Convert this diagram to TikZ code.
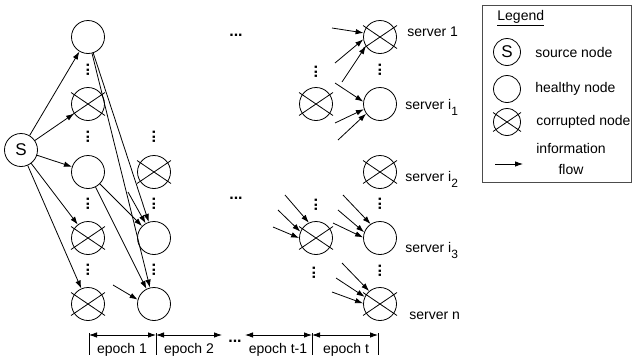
\documentclass[tikz,border=0pt]{standalone}
\usepackage{fontspec}
\setmainfont{Liberation Sans}
\usetikzlibrary{positioning}
\usetikzlibrary{arrows.meta}

\newcommand{\srvsub}[1]{\raisebox{-6pt}{\fontsize{12pt}{12pt}\selectfont #1}}

\begin{document}
\begin{tikzpicture}[
                          x=1pt, y=-1pt,
                          font=\fontsize{14pt}{16pt}\selectfont,
                          line width=0.8pt,
                          healthynode/.style={circle, draw, minimum size=33pt, inner sep=0pt},
                          corruptnode/.style={circle, draw, minimum size=33pt, inner sep=0pt},
                          sourcenode/.style={circle, draw, minimum size=33pt, inner sep=0pt, font=\fontsize{17pt}{17pt}\selectfont},
                          flowarrow/.style={-{Latex[length=8pt,width=5.5pt]}},
                          epocharrow/.style={{Latex[length=8pt,width=5.5pt]}-{Latex[length=8pt,width=5.5pt]}},
                          dotsnode/.style={font=\fontsize{16pt}{16pt}\selectfont\bfseries, inner sep=0pt, text height=2.2pt, text depth=0pt},
                          vdotsnode/.style={dotsnode, rotate=90},
                          serverlabel/.style={anchor=base west, inner sep=0pt},
                      ]
                      \useasboundingbox (0,0) rectangle (632,362);

                      %Nodes
                      \node[sourcenode]     (src)   at (21,150)     {S};
                      \node[healthynode]    (a1)    at (88,37)      {};
                      \node[corruptnode]    (a2)    at (88,104)     {};
                      \node[healthynode]    (a3)    at (88,172)     {};
                      \node[corruptnode]    (a4)    at (88,238)     {};
                      \node[corruptnode]    (a5)    at (88,304)     {};
                      \node[corruptnode]    (b3)    at (154,172)    {};
                      \node[healthynode]    (b4)    at (154,238)    {};
                      \node[healthynode]    (b5)    at (154,304)    {};
                      \node[corruptnode]    (c2)    at (316,104)    {};
                      \node[corruptnode]    (c4)    at (316,238)    {};
                      \node[corruptnode]    (d1)    at (380,37)     {};
                      \node[healthynode]    (d2)    at (380,104)    {};
                      \node[corruptnode]    (d3)    at (380,172)    {};
                      \node[healthynode]    (d4)    at (380,238)    {};
                      \node[corruptnode]    (d5)    at (380,304)    {};

                      %Server labels
                      \node[serverlabel]    (s1)    at (407,36.5)   {server 1};
                      \node[serverlabel]    (s2)    at (405,109.5)  {server i\srvsub{1}};
                      \node[serverlabel]    (s3)    at (405,181.5)  {server i\srvsub{2}};
                      \node[serverlabel]    (s4)    at (405,252.5)  {server i\srvsub{3}};
                      \node[serverlabel]    (s5)    at (409,319.5)  {server n};

                      %Crosses
                      \foreach \n in {a2,a4,a5,b3,c2,c4,d1,d3,d5}
                          \draw (\n.center) +(-17,-11.5) -- +(17,11.5) +(-17,11.5) -- +(17,-11.5);

                      %Dots
                      \foreach \x/\y in {88/70, 88/137, 88/204, 88/270, 154/137, 154/204, 154/270,
                                         316/72, 316/205, 314/273, 380/70, 380/204, 380/271}
                          \node[vdotsnode] (v\x-\y) at (\x,\y) {...};
                      \node[dotsnode]       (h1)    at (236,35)     {...};
                      \node[dotsnode]       (h2)    at (236,198)    {...};
                      \node[dotsnode]       (h3)    at (235,341)    {...};

                      %Lines
                      \foreach \n in {a1,a2,a3,a4,a5}
                          \draw[flowarrow] (src) -- (\n);
                      \draw[flowarrow] (a1) -- (b4);
                      \draw[flowarrow] (a1) -- (b5);
                      \draw[flowarrow] (a3) -- (b4);
                      \draw[flowarrow] (a3) -- (b5);
                      \foreach \n/\i/\dx/\dy/\a in {b4/1/-26/-46/120, b5/1/-41/-19/165,
                                                    d1/1/-48/-9/166, d1/2/-45/26/188, d1/3/-38/45/213,
                                                    d2/1/-45/-21/172, d2/2/-45/19/198, d2/3/-42/36/215,
                                                    c4/1/-31/-43/115, c4/2/-38/-28/158, c4/3/-43/-11/180,
                                                    d4/1/-37/-43/124, d4/2/-42/-28/160, d4/3/-47/-15/178,
                                                    d5/1/-38/-41/130, d5/2/-44/-26/155, d5/3/-48/-12/178}{
                          \coordinate (\n-in\i) at ([shift={(\dx,\dy)}]\n.center);
                          \draw[flowarrow] (\n-in\i) -- (\n.\a);
                      }

                      %Epochs
                      \coordinate (t1) at (89,335);
                      \coordinate (t2) at (156,335);
                      \coordinate (t3) at (312,335);
                      \coordinate (t4) at (378,335);
                      \coordinate (e2) at (222,335);
                      \coordinate (e3) at (245,335);
                      \foreach \t in {t1,t2,t3,t4}
                          \draw ([yshift=2pt]\t) -- ([yshift=-20pt]\t);
                      \draw[epocharrow] (t1) -- (t2);
                      \draw[epocharrow] (t2) -- (e2);
                      \draw[epocharrow] (e3) -- (t3);
                      \draw[epocharrow] (t3) -- (t4);
                      \node (ep1) at (122,350) {epoch 1};
                      \node (ep2) at (189,350) {epoch 2};
                      \node (ep3) at (278,350) {epoch t-1};
                      \node (ep4) at (346,350) {epoch t};

                      %Legend
                      \draw[draw=gray!60!black] (482,5) rectangle (631,182);
                      \node[anchor=west, inner sep=0pt] (lgd) at (497,18) {\underline{Legend}};
                      \node[sourcenode, minimum size=27pt]  (ls)    at (507,52)     {S};
                      \node[healthynode, minimum size=27pt] (lh)    at (507,89)     {};
                      \node[corruptnode, minimum size=27pt] (lc)    at (507,122)    {};
                      \draw (lc.center) +(-14,-9.5) -- +(14,9.5) +(-14,9.5) -- +(14,-9.5);
                      \node[anchor=west, inner sep=0pt] (lst) [right=14pt of ls] {source node};
                      \node[anchor=west, inner sep=0pt] (lht) [right=14pt of lh] {healthy node};
                      \node[anchor=west, inner sep=0pt] (lct) [right=15pt of lc] {corrupted node};
                      \coordinate (lf0) at (495,164);
                      \coordinate (lf1) at (523,164);
                      \draw[flowarrow] (lf0) -- (lf1);
                      \node[align=center, font=\fontsize{14pt}{21pt}\selectfont] (lft) at (571,159) {information\\flow};
                  \end{tikzpicture}
\end{document}
